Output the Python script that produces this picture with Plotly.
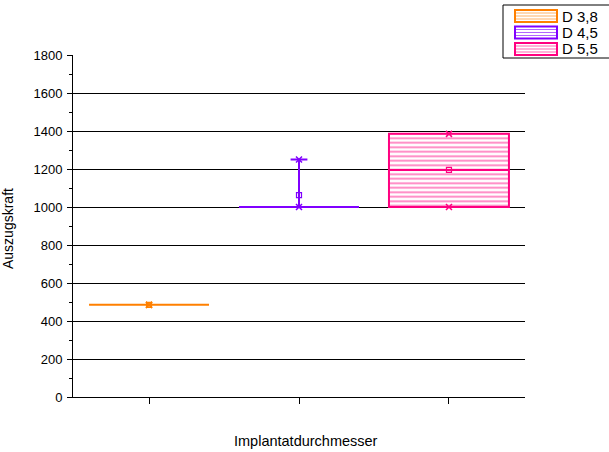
import plotly.graph_objects as go

# Pull-out force per implant diameter (box statistics)
groups = ["D 3,8", "D 4,5", "D 5,5"]
positions = [1, 2, 3]
q1 = [485, 1000, 1000]
median = [485, 1000, 1195]
q3 = [485, 1000, 1385]
lower = [485, 1000, 1000]
upper = [485, 1250, 1385]
mean = [485, 1063, 1195]
colors = ["#FF8000", "#8000FF", "#FF0080"]
y_ticks = list(range(0, 1801, 200))

# Page / plot-area geometry in pixels
W, H = 609, 452
L, R, T, B = 73, 525, 55, 397
BOX_W = 0.8


def px_x(p):
    return (p - L) / (R - L)


def px_y(p):
    return (B - p) / (B - T)


fig = go.Figure()

# Hatched box bodies
for g, x, a, b, c in zip(groups, positions, q1, q3, colors):
    fig.add_trace(go.Bar(
        x=[x], base=[a], y=[b - a], width=BOX_W, showlegend=False,
        marker=dict(color="white", line=dict(width=0),
                    pattern=dict(shape="-", fgcolor=c, bgcolor="white",
                                 size=4.5, solidity=0.4)),
        hoverinfo="skip",
    ))

# Box outlines, medians and whiskers
for g, x, a, m, b, lo, hi, c in zip(groups, positions, q1, median, q3,
                                     lower, upper, colors):
    fig.add_trace(go.Box(
        x=[x], q1=[a], median=[m], q3=[b], lowerfence=[lo], upperfence=[hi],
        width=BOX_W, whiskerwidth=0.14, boxpoints=False,
        line=dict(color=c, width=2), fillcolor="rgba(0,0,0,0)",
        name=g, showlegend=False,
    ))

# Min / max crosses and mean squares
for g, x, lo, hi, mu, c in zip(groups, positions, lower, upper, mean, colors):
    fig.add_trace(go.Scatter(
        x=[x, x], y=[lo, hi], mode="markers", showlegend=False,
        marker=dict(symbol="x-thin-open", size=6, color=c,
                    line=dict(color=c, width=1.5)),
    ))
    fig.add_trace(go.Scatter(
        x=[x], y=[mu], mode="markers", showlegend=False,
        marker=dict(symbol="square-open", size=5, color=c,
                    line=dict(color=c, width=1.2)),
    ))

# Legend drawn as shapes + text
shapes = [dict(type="rect", xref="paper", yref="paper",
               x0=px_x(503), x1=px_x(640), y0=px_y(58), y1=px_y(5),
               line=dict(color="black", width=1), fillcolor="white",
               layer="above")]
annotations = []
for i, (g, c) in enumerate(zip(groups, colors)):
    cy = 16 + 16.5 * i
    top, bot = cy - 6, cy + 6
    shapes.append(dict(type="rect", xref="paper", yref="paper",
                       x0=px_x(515), x1=px_x(557), y0=px_y(bot), y1=px_y(top),
                       line=dict(color=c, width=2), fillcolor="white",
                       layer="above"))
    for dy in (-3, 0, 3):
        shapes.append(dict(type="line", xref="paper", yref="paper",
                           x0=px_x(516), x1=px_x(556),
                           y0=px_y(cy + dy), y1=px_y(cy + dy),
                           line=dict(color=c, width=1), opacity=0.6,
                           layer="above"))
    annotations.append(dict(x=px_x(560), y=px_y(cy), xref="paper",
                            yref="paper", text=g, showarrow=False,
                            xanchor="left", yanchor="middle",
                            font=dict(size=15, color="black")))

# Axis titles
annotations.append(dict(x=px_x(306), y=px_y(441), xref="paper", yref="paper",
                        text="Implantatdurchmesser", showarrow=False,
                        xanchor="center", yanchor="middle",
                        font=dict(size=14.5, color="black")))
annotations.append(dict(x=px_x(8), y=px_y(229), xref="paper", yref="paper",
                        text="Auszugskraft", showarrow=False, textangle=-90,
                        xanchor="center", yanchor="middle",
                        font=dict(size=14, color="black")))

fig.update_layout(
    width=W, height=H,
    margin=dict(l=L, r=W - R, t=T, b=H - B, pad=0),
    paper_bgcolor="white", plot_bgcolor="white",
    font=dict(family="Liberation Sans, Arial, sans-serif", size=13,
              color="black"),
    barmode="overlay", boxmode="overlay",
    shapes=shapes, annotations=annotations,
    showlegend=False,
)
fig.update_xaxes(
    range=[0.493, 3.507], tickvals=positions, ticktext=["", "", ""],
    ticks="outside", ticklen=6, tickwidth=1, tickcolor="black",
    showline=True, linecolor="black", linewidth=1,
    showgrid=False, zeroline=False,
)
fig.update_yaxes(
    range=[0, 1800], tickvals=y_ticks,
    ticks="outside", ticklen=5, tickwidth=1, tickcolor="black",
    minor=dict(dtick=100, ticks="outside", ticklen=3, tickcolor="black",
               showgrid=False),
    showline=True, linecolor="black", linewidth=1,
    showgrid=True, gridcolor="black", gridwidth=1, zeroline=False,
    tickfont=dict(size=13), ticklabelstandoff=2,
)

fig.write_html("out.html")
